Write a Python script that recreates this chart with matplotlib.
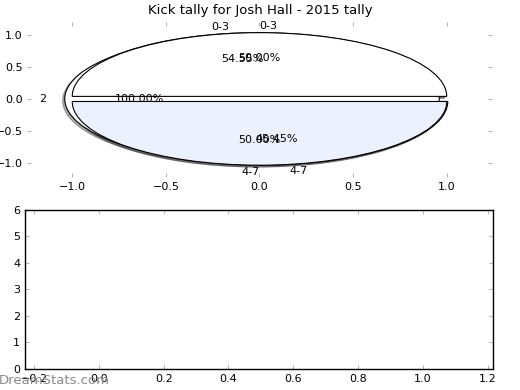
import matplotlib
matplotlib.use("Agg")
import matplotlib.pyplot as plt

title = "Kick tally for Josh Hall - 2015 tally"
labels_a = ["0-3", "4-7"]
values_a = [6, 5]
labels_b = ["2"]
values_b = [1]
labels_c = ["0-3", "4-7"]
values_c = [1, 1]
colors = ["white", "#ebf1fd"]

plt.rcParams['font.family'] = ['DejaVu Sans']
fig = plt.figure(figsize=(5.2, 3.9), dpi=100)

ax = fig.add_axes([0.0525, 0.547, 0.893, 0.397])
wp = {'edgecolor': 'black', 'linewidth': 0.8}
tp = {'fontsize': 8}
sh = {'ox': -0.008, 'oy': -0.02, 'alpha': 0.45}
ax.pie(values_a, labels=labels_a, autopct='%1.2f%%', colors=colors,
       explode=[0.04] * len(values_a), shadow=sh, wedgeprops=wp,
       textprops=tp, frame=True)
ax.pie(values_b, labels=labels_b, autopct='%1.2f%%', colors=colors,
       explode=[0.04] * len(values_b), shadow=sh, wedgeprops=wp,
       textprops=tp, frame=True)
_, texts_c, _ = ax.pie(values_c, labels=labels_c, autopct='%1.2f%%',
                       colors=colors, explode=[0.04] * len(values_c),
                       shadow=sh, wedgeprops=wp, textprops=tp, frame=True)
texts_c[0].set_ha('left')
texts_c[1].set_ha('right')
ax.set_aspect('auto')
ax.set_xlim(-1.24, 1.24)
ax.set_ylim(-1.22, 1.21)
ax.set_xticks([-1.0, -0.5, 0.0, 0.5, 1.0])
ax.set_yticks([-1.0, -0.5, 0.0, 0.5, 1.0])
ax.set_frame_on(False)
ax.tick_params(direction='in', color='#b8b8b8', top=True, right=True,
               length=3, labelsize=8)
fig.text(0.5, 1 - 10.5 / 390, title, ha='center', va='center', fontsize=9.5)

ax2 = fig.add_axes([0.048, 0.054, 0.9006, 0.4077])
ax2.set_xlim(-0.228, 1.217)
ax2.set_ylim(0, 6)
ax2.set_xticks([-0.2, 0.0, 0.2, 0.4, 0.6, 0.8, 1.0, 1.2])
ax2.set_yticks([0, 1, 2, 3, 4, 5, 6])
ax2.tick_params(direction='in', color='#b8b8b8', top=True, right=True,
                length=3, labelsize=8)
for s in ax2.spines.values():
    s.set_linewidth(1.0)

fig.text(-0.002, 1 - 384.5 / 390, "DreamStats.com", color='#8a8a8a',
         fontsize=9.5, va='baseline', ha='left', zorder=0)

fig.savefig("out.png", dpi=100)
